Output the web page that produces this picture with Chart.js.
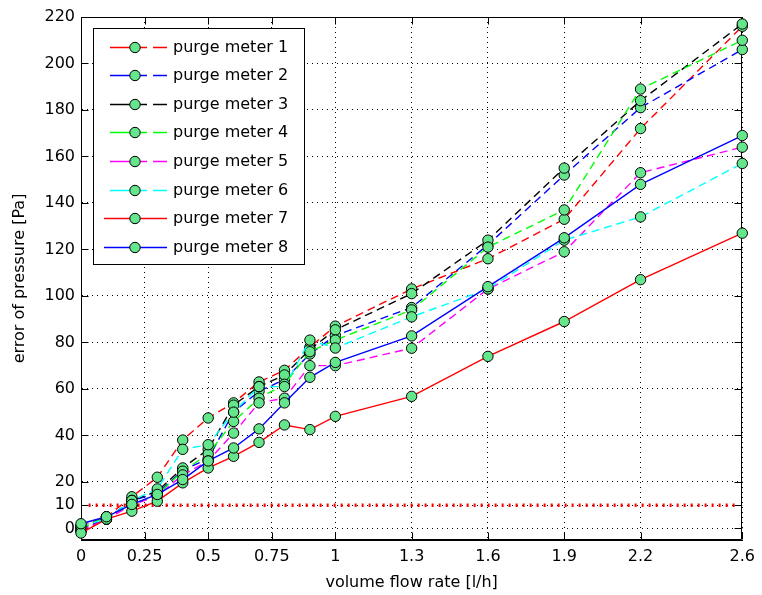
<!DOCTYPE html>
<html><head><meta charset="utf-8">
<script src="https://cdn.jsdelivr.net/npm/chart.js@4"></script>
<style>html,body{margin:0;padding:0;background:#fff}#wrap{width:762px;height:595px}</style>
</head><body><div id="wrap"><canvas id="c" width="762" height="595"></canvas></div>
<script>
const flowRates = [0, 0.1, 0.2, 0.3, 0.4, 0.5, 0.6, 0.7, 0.8, 0.9, 1.0, 1.3, 1.6, 1.9, 2.2, 2.6];
const meter1 = [1, 5, 13.6, 22, 38, 47.5, 54, 63, 68, 78, 87, 103, 116, 133, 172, 216];
const meter2 = [0, 4, 12, 15, 25, 30, 50, 59, 64, 75, 83, 95, 122, 152, 181, 206];
const meter3 = [-1, 4, 12, 16, 26, 34, 53, 61, 66, 77, 85.4, 101, 124, 155, 184, 217];
const meter4 = [0, 5, 10, 14.6, 24.6, 32, 46, 56, 62, 76, 81, 94, 121, 137, 189, 210];
const meter5 = [-1, 4, 10, 14, 23, 29, 41, 54, 56, 70, 70, 77.5, 103, 119, 153, 164];
const meter6 = [1, 4, 12, 17, 34, 36, 50, 61, 61, 81, 77.6, 91, 103, 124, 134, 157];
const meter7 = [-2, 4, 7.4, 11.7, 19.6, 26, 31, 37, 44.5, 42.5, 48.2, 56.8, 74, 89, 107, 127];
const meter8 = [2, 5, 10.3, 14.6, 21, 29, 34.6, 42.8, 54, 65, 71.4, 82.8, 104, 125, 148, 169];
const seriesNames = ['purge meter 1','purge meter 2','purge meter 3','purge meter 4','purge meter 5','purge meter 6','purge meter 7','purge meter 8'];
const seriesColors = ['#ff0000','#0000ff','#000000','#00ff00','#ff00ff','#00ffff','#ff0000','#0000ff'];
const seriesDashed = [true, true, true, true, true, true, false, false];
const limitX = [0.03, 2.57];
const limitY = [10, 10];
const xTicks = [0, 0.25, 0.5, 0.75, 1, 1.3, 1.6, 1.9, 2.2, 2.6];
const xTickLabels = ['0','0.25','0.5','0.75','1','1.3','1.6','1.9','2.2','2.6'];
const yTicks = [0, 10, 20, 40, 60, 80, 100, 120, 140, 160, 180, 200, 220];
const yTickLabels = ['0','10','20','40','60','80','100','120','140','160','180','200','220'];

const allSeries = [meter1, meter2, meter3, meter4, meter5, meter6, meter7, meter8];
const FONT = 'DejaVu Sans';
const markerFill = '#66e68c';

const datasets = allSeries.map((vals, i) => ({
  label: seriesNames[i],
  data: flowRates.map((x, j) => ({x: x, y: vals[j]})),
  borderColor: seriesColors[i],
  borderDash: seriesDashed[i] ? [8, 5] : [],
  borderWidth: 1.4,
  pointRadius: 5.2,
  pointHoverRadius: 5.2,
  pointBackgroundColor: markerFill,
  pointBorderColor: '#000',
  pointBorderWidth: 1,
  tension: 0,
  fill: false,
  clip: false,
  order: 20 - i,
  inLegend: true
}));
datasets.push({
  label: 'limit',
  data: limitX.map((x, j) => ({x: x, y: limitY[j]})),
  borderColor: '#ff0000',
  borderDash: [2, 5],
  borderWidth: 3.5,
  pointRadius: 0,
  tension: 0,
  fill: false,
  order: 40,
  inLegend: false
});

const frame = {
  id: 'frame',
  beforeDatasetsDraw(chart) {
    const {ctx, chartArea: a, scales: {x, y}} = chart;
    ctx.save();
    ctx.strokeStyle = '#000';
    ctx.lineWidth = 1;
    ctx.setLineDash([]);
    const L = Math.round(a.left) + 0.5, R = Math.round(a.right) - 0.5;
    const T = Math.round(a.top) + 0.5, B = Math.round(a.bottom) - 0.5;
    ctx.beginPath();
    ctx.moveTo(L, T); ctx.lineTo(R, T); ctx.lineTo(R, B); ctx.lineTo(L, B); ctx.closePath();
    const tl = 7;
    xTicks.forEach(v => {
      const px = Math.round(x.getPixelForValue(v)) + 0.5;
      ctx.moveTo(px, B); ctx.lineTo(px, B - tl);
      ctx.moveTo(px, T); ctx.lineTo(px, T + tl);
    });
    yTicks.forEach(v => {
      const py = Math.round(y.getPixelForValue(v)) + 0.5;
      ctx.moveTo(L, py); ctx.lineTo(L + tl, py);
      ctx.moveTo(R, py); ctx.lineTo(R - tl, py);
    });
    ctx.stroke();
    ctx.restore();
  }
};

const legendBox = {
  id: 'legendBox',
  afterDraw(chart) {
    const ctx = chart.ctx;
    const ds = chart.data.datasets.filter(d => d.inLegend);
    ctx.save();
    const x0 = 93.5, y0 = 28.5, w = 211, h = 236;
    ctx.fillStyle = '#fff';
    ctx.fillRect(x0, y0, w, h);
    ctx.strokeStyle = '#000'; ctx.lineWidth = 1; ctx.setLineDash([]);
    ctx.strokeRect(x0, y0, w, h);
    ds.forEach((d, i) => {
      const yy = Math.round(46.7 + i * 28.57) + 0.5;
      ctx.strokeStyle = d.borderColor; ctx.lineWidth = 1.5;
      ctx.beginPath();
      if (d.borderDash.length) {
        ctx.moveTo(110, yy); ctx.lineTo(130, yy);
        ctx.moveTo(140, yy); ctx.lineTo(147, yy);
        ctx.moveTo(153, yy); ctx.lineTo(167, yy);
      } else {
        ctx.moveTo(104, yy); ctx.lineTo(167, yy);
      }
      ctx.stroke();
      ctx.beginPath();
      ctx.arc(135, yy, 5.2, 0, Math.PI * 2);
      ctx.fillStyle = d.pointBackgroundColor; ctx.fill();
      ctx.strokeStyle = '#000'; ctx.lineWidth = 1; ctx.stroke();
      ctx.fillStyle = '#000';
      ctx.font = '16px "' + FONT + '"';
      ctx.textBaseline = 'middle'; ctx.textAlign = 'left';
      ctx.fillText(d.label, 173, yy);
    });
    ctx.restore();
  }
};

new Chart(document.getElementById('c'), {
  type: 'line',
  data: {datasets: datasets},
  plugins: [frame, legendBox],
  options: {
    responsive: false,
    animation: false,
    devicePixelRatio: 1,
    layout: {padding: {top: 17, right: 13, left: 0, bottom: 0}},
    plugins: {legend: {display: false}, tooltip: {enabled: false}},
    scales: {
      x: {
        type: 'linear', min: 0, max: 2.6,
        afterBuildTicks: s => { s.ticks = xTicks.map(v => ({value: v})); },
        afterFit: s => { s.height = 55; },
        ticks: {
          autoSkip: false, maxRotation: 0, padding: 7, color: '#000',
          font: {family: FONT, size: 16},
          callback: (v) => { const k = xTicks.indexOf(v); return k >= 0 ? xTickLabels[k] : ''; }
        },
        grid: {color: '#000', lineWidth: 1, drawTicks: false},
        border: {display: true, color: '#000', width: 1, dash: [1, 4]},
        title: {display: true, text: 'volume flow rate [l/h]', color: '#000', font: {family: FONT, size: 16}, padding: {top: 0, bottom: 3}}
      },
      y: {
        type: 'linear', min: -5, max: 220,
        afterBuildTicks: s => { s.ticks = yTicks.map(v => ({value: v})); },
        afterFit: s => { s.width = 81; },
        ticks: {
          autoSkip: false, padding: 6, color: '#000',
          font: {family: FONT, size: 16},
          callback: (v) => { const k = yTicks.indexOf(v); return k >= 0 ? yTickLabels[k] : ''; }
        },
        grid: {color: '#000', lineWidth: 1, drawTicks: false},
        border: {display: true, color: '#000', width: 1, dash: [1, 4]},
        title: {display: true, text: 'error of pressure [Pa]', color: '#000', font: {family: FONT, size: 16}, padding: {top: 10, bottom: 0}}
      }
    }
  }
});
</script></body></html>
